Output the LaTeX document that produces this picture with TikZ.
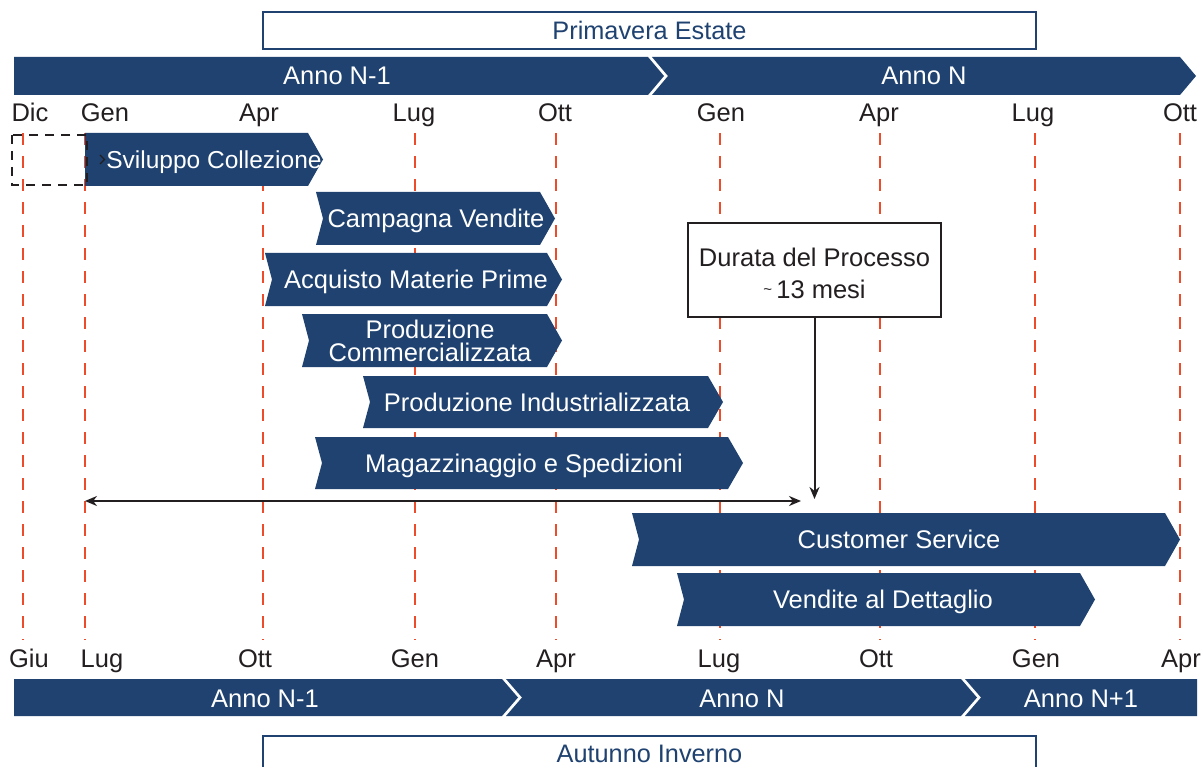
\documentclass[tikz,border=0pt]{standalone}
\usepackage{fontspec}
\setmainfont{Liberation Sans}
\usetikzlibrary{arrows.meta}
\definecolor{navy}{HTML}{1F4270}
\definecolor{tred}{HTML}{EE4B2B}
\definecolor{ink}{HTML}{231F20}
% name, x left, x corner, x point, y top, y bottom, text x, text
\newcommand\chev[8]{%
  \fill[navy] (#2,#5) -- (#3,#5) -- (#4,{(#5+#6)/2}) -- (#3,#6) -- (#2,#6) -- ({#2+7},{(#5+#6)/2}) -- cycle;
  \node[bartext] (#1) at (#7,{(#5+#6)/2}) {#8};}
\begin{document}
\begin{tikzpicture}[x=1pt,y=-1pt,
  capc/.style={text height=18pt,text depth=0pt,inner sep=0pt},
  bartext/.style={capc,text=white,font=\fontsize{25.5}{23}\selectfont,align=center},
  twoline/.style={text=white,font=\fontsize{25.5}{23}\selectfont,align=center,inner sep=0pt},
  month/.style={capc,text=ink,font=\fontsize{25.5}{26}\selectfont},
  gridline/.style={tred,line width=2.5pt,dash pattern=on 12pt off 11pt},
  seasonbox/.style={draw=navy,line width=2pt,fill=white,text=navy,font=\fontsize{25.3}{26}\selectfont,minimum width=773pt,inner sep=0pt,text height=18pt,text depth=0pt},
  conn/.style={ink,line width=2pt,>={Stealth[length=12pt,width=10pt]}}]
\useasboundingbox (0,0) rectangle (1204,767);
\fill[white] (0,0) rectangle (1204,767);

% dashed month lines
\foreach \x in {23,85,263,415,556,720,880,1035,1180}
  \draw[gridline] (\x,133) -- (\x,640);

% season boxes
\node[seasonbox,minimum height=37pt] (pe) at (649.5,30.5) {Primavera Estate};
\node[seasonbox,minimum height=34pt,anchor=north] (ai) at (649.5,735) {Autunno Inverno};

% top year bar
\fill[navy] (14,57) -- (648,57) -- (664,76) -- (648,95) -- (14,95) -- cycle;
\fill[navy] (652,57) -- (1180,57) -- (1196,76) -- (1180,95) -- (652,95) -- (668,76) -- cycle;
\node[bartext] (ya1) at (337,76) {Anno N-1};
\node[bartext] (ya2) at (924,76) {Anno N};

% bottom year bar
\fill[navy] (14,679) -- (502,679) -- (518,697.5) -- (502,716) -- (14,716) -- cycle;
\fill[navy] (506,679) -- (961,679) -- (977,697.5) -- (961,716) -- (506,716) -- (522,697.5) -- cycle;
\fill[navy] (965,679) -- (1197,679) -- (1197,716) -- (965,716) -- (981,697.5) -- cycle;
\node[bartext] (yb1) at (265,698) {Anno N-1};
\node[bartext] (yb2) at (742,698) {Anno N};
\node[bartext] (yb3) at (1081,698) {Anno N+1};

% top month labels
\node[month] (t1) at (30,113) {Dic};
\node[month] (t2) at (105,113) {Gen};
\node[month] (t3) at (259,113) {Apr};
\node[month] (t4) at (414,113) {Lug};
\node[month] (t5) at (555,113) {Ott};
\node[month] (t6) at (721,113) {Gen};
\node[month] (t7) at (879,113) {Apr};
\node[month] (t8) at (1033,113) {Lug};
\node[month] (t9) at (1180,113) {Ott};

% bottom month labels
\node[month] (b1) at (29,658) {Giu};
\node[month] (b2) at (102,658) {Lug};
\node[month] (b3) at (255,658) {Ott};
\node[month] (b4) at (415,658) {Gen};
\node[month] (b5) at (556,658) {Apr};
\node[month] (b6) at (719,658) {Lug};
\node[month] (b7) at (876,658) {Ott};
\node[month] (b8) at (1036,658) {Gen};
\node[month] (b9) at (1181,658) {Apr};

% Sviluppo Collezione
\fill[navy] (85,133) -- (308,133) -- (323,159.5) -- (308,186) -- (85,186) -- cycle;
\node[bartext,font=\fontsize{24.5}{23}\selectfont] (sv) at (214,159.5) {Sviluppo Collezione};
\draw[ink,line width=1.2pt] (100,155) -- (104.5,159.5) -- (100,164);
\draw[ink,line width=2pt,dash pattern=on 9pt off 7pt] (12,135) rectangle (87,185);

% activities
\chev{cv}{316}{540}{555}{192}{245}{436}{Campagna Vendite}
\chev{amp}{265}{547}{562}{253}{306}{416}{Acquisto Materie Prime}
\fill[navy] (302,314) -- (547,314) -- (562,340.5) -- (547,367) -- (302,367) -- (309,340.5) -- cycle;
\node[twoline] (pc) at (430,340.5) {Produzione\\Commercializzata};
\chev{pi}{363}{708}{723}{376}{428}{537}{Produzione Industrializzata}
\chev{ms}{315}{728}{743}{437}{489}{524}{Magazzinaggio e Spedizioni}
\chev{cs}{632}{1165}{1180}{513}{566}{899}{Customer Service}
\chev{vd}{677}{1080}{1095}{573}{626}{883}{Vendite al Dettaglio}

% duration box and arrows
\node[draw=ink,line width=2pt,fill=white,minimum width=253pt,minimum height=94pt,
      align=center,text=ink,font=\fontsize{25.5}{32}\selectfont] (dur) at (814.5,270)
      {\rule{0pt}{25pt}Durata del Processo\\\raisebox{4pt}{\fontsize{15}{15}\selectfont\textasciitilde}\,13 mesi};
\coordinate (durend) at (814.5,499);
\draw[conn,->] (dur.south) -- (durend);
\coordinate (hl) at (85,501);
\coordinate (hr) at (801,501);
\draw[conn,<->] (hl) -- (hr);
\end{tikzpicture}
\end{document}
